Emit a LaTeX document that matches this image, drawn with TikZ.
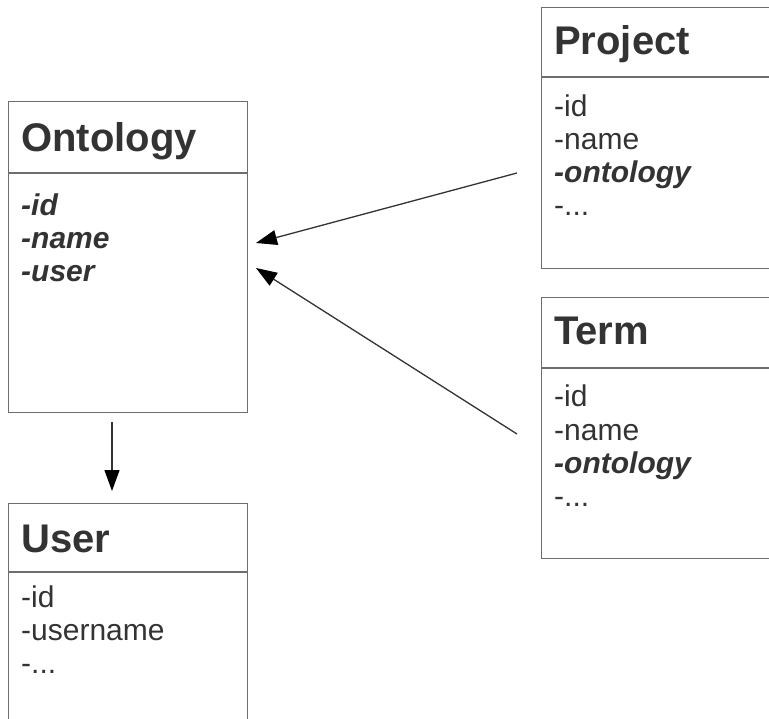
\documentclass[tikz,border=0pt]{standalone}
\usepackage{fontspec}
\setmainfont{Liberation Sans}
\usetikzlibrary{arrows.meta}
\definecolor{boxgray}{HTML}{6E6E6E}
\definecolor{textgray}{HTML}{333333}
\newcommand{\attrmore}{-...}
\tikzset{
    classbox/.style={draw=boxgray, line width=1.4pt, rectangle, anchor=north west,
        inner sep=0pt, minimum width=239pt},
    classtitle/.style={anchor=base west, inner sep=0pt, text=textgray,
        font=\fontsize{40}{44}\selectfont\bfseries},
    classitem/.style={anchor=base west, inner sep=0pt, text=textgray,
        font=\fontsize{30}{33}\selectfont},
    refarrow/.style={draw=textgray, line width=1.3pt, -{Triangle[length=21pt,width=15pt,color=black]}},
}
\begin{document}
\begin{tikzpicture}[x=1pt,y=-1pt]
    \clip (0,0) rectangle (769,719);

    % boxes
    \node[classbox, minimum height=311pt] (ontology) at (8,101) {};
    \node[classbox, minimum height=261pt] (project) at (541,7) {};
    \node[classbox, minimum height=261pt] (term) at (541,297) {};
    \node[classbox, minimum height=300pt] (user) at (8,503) {};

    % header lines
    \draw[boxgray, line width=1.4pt] (8,173) -- (247,173);
    \draw[boxgray, line width=1.4pt] (541,77) -- (780,77);
    \draw[boxgray, line width=1.4pt] (541,368) -- (780,368);
    \draw[boxgray, line width=1.4pt] (8,572) -- (247,572);

    % titles
    \node[classtitle] (ontology-title) at (21,152) {Ontology};
    \node[classtitle] (project-title) at (554,55) {Project};
    \node[classtitle] (term-title) at (554,345) {Term};
    \node[classtitle] (user-title) at (21,552) {User};

    % attributes
    \foreach \t [count=\i] in {\textit{-id},\textit{-name},\textit{-user}}
        \node[classitem, font=\fontsize{30}{33}\selectfont\bfseries] (ontology-\i) at (21,{216+33*(\i-1)}) {\t};
    \foreach \t [count=\i] in {-id,-name,\textbf{\textit{-ontology}},\attrmore}
        \node[classitem] (project-\i) at (554,{117+33*(\i-1)}) {\t};
    \foreach \t [count=\i] in {-id,-name,\textbf{\textit{-ontology}},\attrmore}
        \node[classitem] (term-\i) at (554,{407+33*(\i-1)}) {\t};
    \foreach \t [count=\i] in {-id,-username,\attrmore}
        \node[classitem] (user-\i) at (21,{607+33*(\i-1)}) {\t};

    % references
    \coordinate (project-ref) at (517,173);
    \coordinate (term-ref) at (517,434);
    \coordinate (ontology-in1) at (256,243);
    \coordinate (ontology-in2) at (256,268);
    \coordinate (ontology-out) at (112,422);
    \coordinate (user-in) at (112,491);
    \draw[refarrow] (project-ref) -- (ontology-in1);
    \draw[refarrow] (term-ref) -- (ontology-in2);
    \draw[refarrow] (ontology-out) -- (user-in);
\end{tikzpicture}
\end{document}
